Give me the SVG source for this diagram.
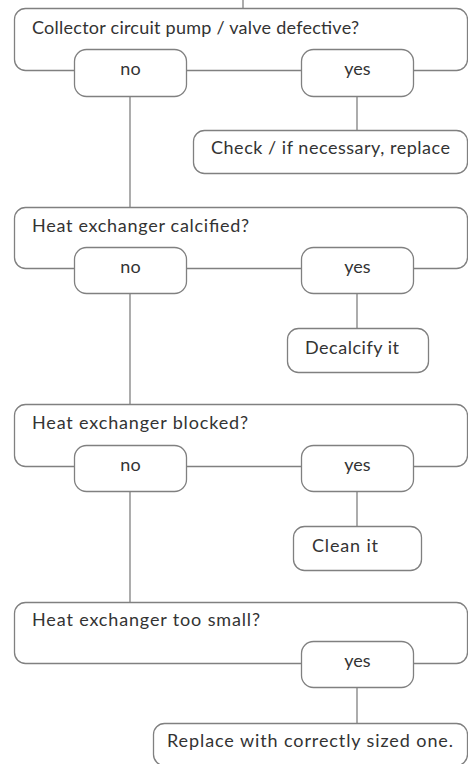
<svg xmlns="http://www.w3.org/2000/svg" width="468" height="764" viewBox="0 0 468 764">
  <style>
    .box { fill: #ffffff; stroke: #808080; stroke-width: 1.3; }
    .link { fill: none; stroke: #808080; stroke-width: 1.3; }
    text { font-family: Lato, "Open Sans", "Liberation Sans", sans-serif; font-size: 18px; fill: #333333; }
    .mid { text-anchor: middle; }
  </style>
  <rect width="468" height="764" fill="#ffffff"/>

  <!-- question frames (drawn first so answer pills sit on their bottom edges) -->
  <g id="q1">
    <rect class="box" x="14.5" y="8.5" width="453" height="62" rx="11"/>
    <text x="32" y="34" textLength="327" lengthAdjust="spacing">Collector circuit pump / valve defective?</text>
  </g>
  <g id="q2">
    <rect class="box" x="14.5" y="207.5" width="453" height="61" rx="11"/>
    <text x="32" y="232" textLength="217" lengthAdjust="spacing">Heat exchanger calcified?</text>
  </g>
  <g id="q3">
    <rect class="box" x="14.5" y="404.5" width="453" height="62" rx="11"/>
    <text x="32" y="429" textLength="216" lengthAdjust="spacing">Heat exchanger blocked?</text>
  </g>
  <g id="q4">
    <rect class="box" x="14.5" y="602.5" width="453" height="61" rx="11"/>
    <text x="32" y="626" textLength="228" lengthAdjust="spacing">Heat exchanger too small?</text>
  </g>

  <!-- connectors -->
  <g id="connectors">
    <path class="link" d="M243 0 V8.5"/>
    <path class="link" d="M130 96.5 V207.5"/>
    <path class="link" d="M357 96.5 V130.5"/>
    <path class="link" d="M130 293.5 V404.5"/>
    <path class="link" d="M357 293.5 V328.5"/>
    <path class="link" d="M130 491.5 V602.5"/>
    <path class="link" d="M357 491.5 V526.5"/>
    <path class="link" d="M357 687.5 V723.5"/>
  </g>

  <!-- answers: question 1 -->
  <g id="q1-no">
    <rect class="box" x="74.5" y="49.5" width="112" height="47" rx="12"/>
    <text class="mid" x="130.5" y="75">no</text>
  </g>
  <g id="q1-yes">
    <rect class="box" x="301.5" y="49.5" width="112" height="47" rx="12"/>
    <text class="mid" x="357.5" y="75">yes</text>
  </g>
  <g id="a1">
    <rect class="box" x="193.5" y="130.5" width="274" height="43" rx="11"/>
    <text x="211" y="154" textLength="239" lengthAdjust="spacing">Check / if necessary, replace</text>
  </g>

  <!-- answers: question 2 -->
  <g id="q2-no">
    <rect class="box" x="74.5" y="247.5" width="112" height="46" rx="12"/>
    <text class="mid" x="130.5" y="273">no</text>
  </g>
  <g id="q2-yes">
    <rect class="box" x="301.5" y="247.5" width="112" height="46" rx="12"/>
    <text class="mid" x="357.5" y="273">yes</text>
  </g>
  <g id="a2">
    <rect class="box" x="287.5" y="328.5" width="141" height="44" rx="11"/>
    <text x="305" y="354" textLength="94" lengthAdjust="spacing">Decalcify it</text>
  </g>

  <!-- answers: question 3 -->
  <g id="q3-no">
    <rect class="box" x="74.5" y="445.5" width="112" height="46" rx="12"/>
    <text class="mid" x="130.5" y="471">no</text>
  </g>
  <g id="q3-yes">
    <rect class="box" x="301.5" y="445.5" width="112" height="46" rx="12"/>
    <text class="mid" x="357.5" y="471">yes</text>
  </g>
  <g id="a3">
    <rect class="box" x="293.5" y="526.5" width="128" height="44" rx="11"/>
    <text x="312" y="552" textLength="66" lengthAdjust="spacing">Clean it</text>
  </g>

  <!-- answers: question 4 -->
  <g id="q4-yes">
    <rect class="box" x="301.5" y="641.5" width="112" height="46" rx="12"/>
    <text class="mid" x="357.5" y="667">yes</text>
  </g>
  <g id="a4">
    <rect class="box" x="153.5" y="723.5" width="314" height="42" rx="11"/>
    <text x="167" y="747" textLength="286" lengthAdjust="spacing">Replace with correctly sized one.</text>
  </g>
</svg>
